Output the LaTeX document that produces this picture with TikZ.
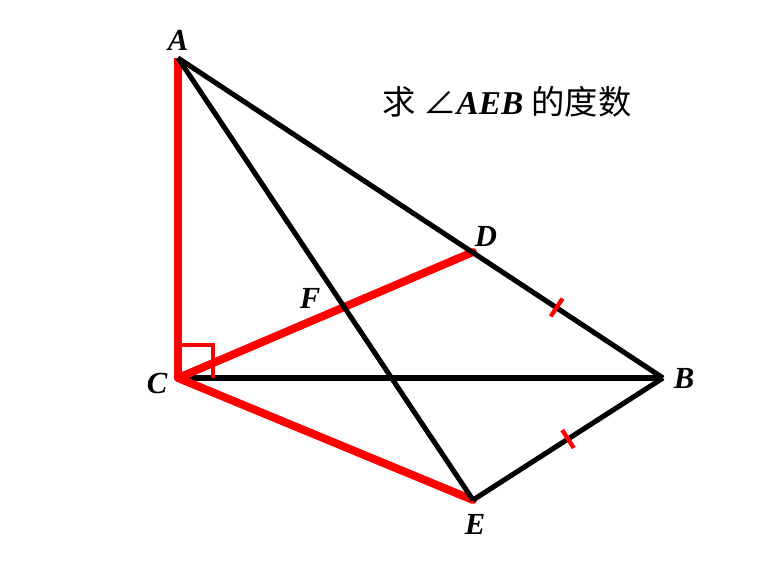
\documentclass[tikz,border=0pt]{standalone}
\usepackage{fontspec}
\setmainfont{Liberation Serif}
\newfontfamily\cjk{Noto Sans CJK SC}
\usetikzlibrary{calc}

\tikzset{every picture/.style={line width=0.75pt}}
\tikzset{
  redside/.style={draw={rgb,255:red,255;green,0;blue,0},line width=6pt},
  blackside/.style={draw=black,line width=3.8pt},
  ptlabel/.style={font=\fontsize{23}{26}\selectfont\bfseries\itshape},
  tickmark/.style={draw={rgb,255:red,255;green,0;blue,0},line width=3.2pt}
}

\begin{document}
\begin{tikzpicture}[x=0.75pt,y=0.75pt,yscale=-1,xscale=1]
\useasboundingbox (0,0) rectangle (773,560);

% Points
\coordinate (A) at (178,58);
\coordinate (C) at (178,378);
\coordinate (B) at (663,378);
\coordinate (D) at (473,252);
\coordinate (E) at (473,500);

%Straight Lines [CB]
\draw [blackside] (C) -- (B) ;
%Straight Lines [red sides]
\draw [redside] (A) -- (C) ;
\draw [redside,line cap=round] (C) -- (D) ;
\draw [redside,line cap=round] (C) -- (E) ;
%Shape: right angle at C
\draw [draw={rgb,255:red,255;green,0;blue,0},line width=2.4pt] ($(C)+(0,-33)$) -- ($(C)+(35,-33)$) -- ($(C)+(35,0)$) ;
%Straight Lines [black sides]
\draw [blackside] (A) -- (B) ;
\draw [blackside] (A) -- (E) ;
\draw [blackside,line join=round] (B) -- (E) ;

%Tick marks
\path (D) -- (B) coordinate[pos=0.44] (tDB);
\path (B) -- (E) coordinate[pos=0.5] (tBE);
\draw [tickmark] ($(tDB)!8pt!90:(B)$) -- ($(tDB)!8pt!-90:(B)$) ;
\draw [tickmark] ($(tBE)!8pt!90:(E)$) -- ($(tBE)!8pt!-90:(E)$) ;

% Text Node
\draw (178,40) node [ptlabel] (labA) {A};
% Text Node
\draw (157,383) node [ptlabel] (labC) {C};
% Text Node
\draw (684,378) node [ptlabel] (labB) {B};
% Text Node
\draw (486,236) node [ptlabel] (labD) {D};
% Text Node
\draw (475,524) node [ptlabel] (labE) {E};
% Text Node
\draw (310,298) node [ptlabel] (labF) {F};
% Text Node
\draw (507,102) node [font=\fontsize{25}{29}\selectfont] (question) {{\cjk 求 ∠}\textbf{\textit{AEB}} {\cjk 的度数}};

\end{tikzpicture}
\end{document}
